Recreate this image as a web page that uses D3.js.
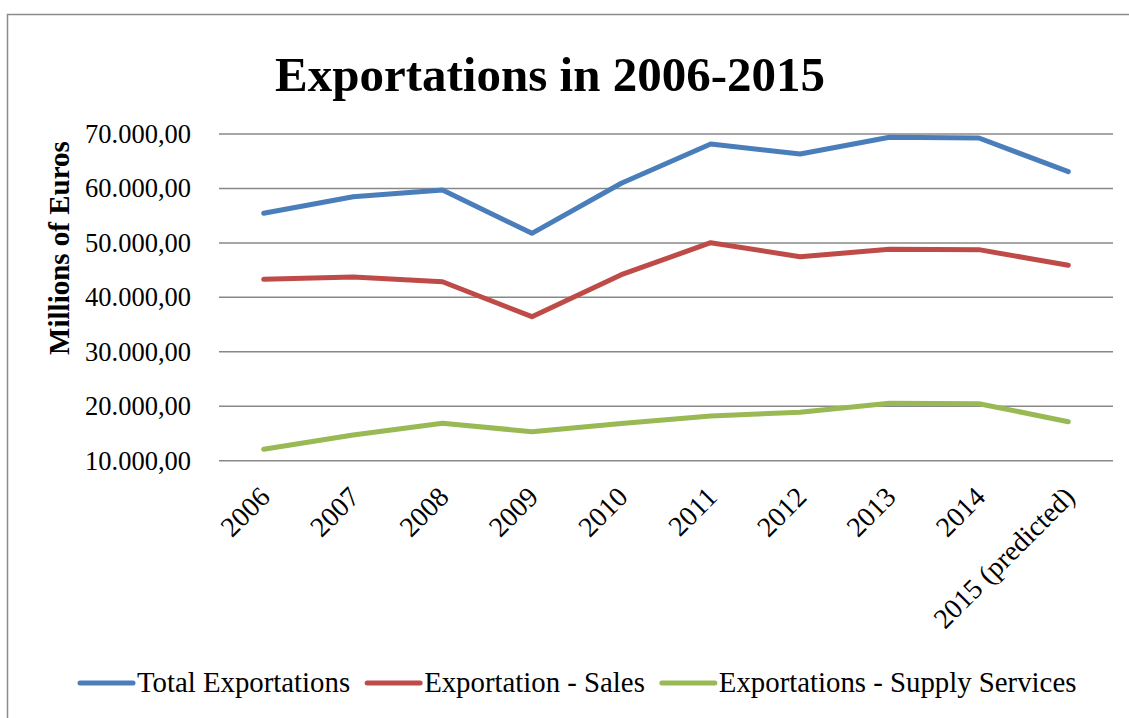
<!DOCTYPE html>
<html>
<head>
<meta charset="utf-8">
<script src="https://cdn.jsdelivr.net/npm/d3@7"></script>
<style>
  html, body { margin: 0; padding: 0; background: #fff; }
  svg { display: block; }
  text { font-family: "Liberation Serif", "DejaVu Serif", serif; fill: #000; }
</style>
</head>
<body>
<svg id="chart" width="1129" height="718"></svg>
<script>
// Categories and series (millions of euros)
const years = ["2006", "2007", "2008", "2009", "2010", "2011", "2012", "2013", "2014", "2015 (predicted)"];
const totalExportations = [55440, 58480, 59720, 51760, 60950, 68160, 66330, 69390, 69270, 63080];
const exportationSales = [43310, 43740, 42870, 36450, 44160, 50040, 47470, 48820, 48760, 45890];
const supplyServices = [12090, 14720, 16870, 15330, 16840, 18210, 18890, 20540, 20470, 17160];
const yTicks = [10000, 20000, 30000, 40000, 50000, 60000, 70000];

const series = [
  { name: "Total Exportations", values: totalExportations, color: "#4a7ebb" },
  { name: "Exportation - Sales", values: exportationSales, color: "#be4b48" },
  { name: "Exportations - Supply Services", values: supplyServices, color: "#98b954" }
];

const svg = d3.select("#chart");

// Outer frame (right and bottom edges fall outside the view)
svg.append("rect")
  .attr("x", 7.5).attr("y", 14.5)
  .attr("width", 1140).attr("height", 720)
  .attr("fill", "none").attr("stroke", "#8c8c8c").attr("stroke-width", 1.5);

const plot = { left: 219, right: 1113, top: 134, bottom: 460.7 };

const x = d3.scaleBand().domain(years).range([plot.left, plot.right]);
const y = d3.scaleLinear().domain([10000, 70000]).range([plot.bottom, plot.top]);

// Number format with "." thousands and "," decimals
const fmt = d3.formatLocale({ decimal: ",", thousands: ".", grouping: [3], currency: ["", "€"] }).format(",.2f");

// Horizontal gridlines
svg.append("g")
  .selectAll("line")
  .data(yTicks)
  .join("line")
  .attr("x1", plot.left).attr("x2", plot.right)
  .attr("y1", d => y(d)).attr("y2", d => y(d))
  .attr("stroke", "#888888").attr("stroke-width", 1.5);

// Y axis labels
const yAxis = svg.append("g")
  .attr("transform", `translate(${plot.left},0)`)
  .call(d3.axisLeft(y).tickValues(yTicks).tickFormat(fmt).tickSize(0).tickPadding(28));
yAxis.select(".domain").remove();
yAxis.selectAll("text")
  .attr("font-family", "Liberation Serif, serif")
  .attr("font-size", 26.5)
  .attr("fill", "#000");

// X axis labels, rotated
const xAxis = svg.append("g")
  .attr("transform", `translate(0,${plot.bottom})`)
  .call(d3.axisBottom(x).tickSize(0).tickPadding(0));
xAxis.select(".domain").remove();
xAxis.selectAll("text")
  .attr("font-family", "Liberation Serif, serif")
  .attr("font-size", 28)
  .attr("fill", "#000")
  .attr("text-anchor", "end")
  .attr("dy", null)
  .attr("y", 0)
  .attr("transform", "translate(8,38) rotate(-45)");

// Series lines
const line = d3.line()
  .x((d, i) => x(years[i]) + x.bandwidth() / 2)
  .y(d => y(d));

svg.append("g")
  .selectAll("path")
  .data(series)
  .join("path")
  .attr("d", d => line(d.values))
  .attr("fill", "none")
  .attr("stroke", d => d.color)
  .attr("stroke-width", 5)
  .attr("stroke-linejoin", "round")
  .attr("stroke-linecap", "round");

// Title
svg.append("text")
  .attr("x", 550).attr("y", 91)
  .attr("text-anchor", "middle")
  .attr("font-size", 49)
  .attr("font-weight", "bold")
  .text("Exportations in 2006-2015");

// Y axis title
svg.append("text")
  .attr("transform", "translate(69,248) rotate(-90)")
  .attr("text-anchor", "middle")
  .attr("font-size", 29)
  .attr("font-weight", "bold")
  .text("Millions of Euros");

// Legend
const legend = svg.append("g");
const legendY = 683;
const items = legend.selectAll("g").data(series).join("g");
items.append("line")
  .attr("x1", 0).attr("x2", 53)
  .attr("y1", 0).attr("y2", 0)
  .attr("stroke", d => d.color)
  .attr("stroke-width", 5)
  .attr("stroke-linecap", "round");
items.append("text")
  .attr("x", 57).attr("y", 9)
  .attr("font-size", 28.8)
  .text(d => d.name);

let cursor = 80;
items.each(function () {
  const g = d3.select(this);
  g.attr("transform", `translate(${cursor},${legendY})`);
  const w = g.select("text").node().getComputedTextLength();
  cursor += 57 + w + 17;
});
</script>
</body>
</html>
